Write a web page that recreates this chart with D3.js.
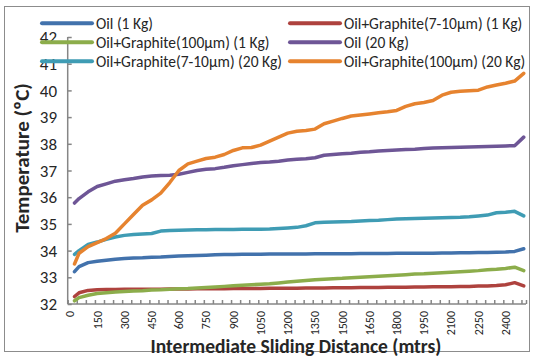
<!DOCTYPE html>
<html>
<head>
<meta charset="utf-8">
<script src="https://cdn.jsdelivr.net/npm/d3@7"></script>
<style>
  body { margin: 0; background: #fff; }
  svg { display: block; }
  text { font-family: Carlito, Calibri, Lato, sans-serif; fill: #262626; }
</style>
</head>
<body>
<script>
"use strict";

// sliding distance (m) of each reading
const distances = [25, 50, 100, 150, 200, 250, 300, 350, 400, 450, 500, 550, 600, 650, 700,
  750, 800, 850, 900, 950, 1000, 1050, 1100, 1150, 1200, 1250, 1300, 1350, 1400, 1450,
  1500, 1550, 1600, 1650, 1700, 1750, 1800, 1850, 1900, 1950, 2000, 2050, 2100, 2150,
  2200, 2250, 2300, 2350, 2400, 2450, 2500];

const oil1 = [33.21, 33.40, 33.55, 33.60, 33.64, 33.68, 33.70, 33.72, 33.73, 33.75, 33.76,
  33.78, 33.80, 33.81, 33.82, 33.83, 33.84, 33.85, 33.85, 33.86, 33.86, 33.86, 33.87, 33.87,
  33.87, 33.87, 33.87, 33.88, 33.88, 33.88, 33.88, 33.88, 33.89, 33.89, 33.89, 33.89, 33.90,
  33.90, 33.90, 33.90, 33.90, 33.91, 33.91, 33.92, 33.92, 33.93, 33.93, 33.94, 33.95, 33.97, 34.07];

const graphite710_1 = [32.28, 32.42, 32.51, 32.53, 32.54, 32.54, 32.55, 32.55, 32.55, 32.55,
  32.55, 32.56, 32.56, 32.56, 32.57, 32.57, 32.57, 32.57, 32.58, 32.58, 32.58, 32.58, 32.59,
  32.59, 32.59, 32.59, 32.60, 32.60, 32.60, 32.61, 32.61, 32.61, 32.62, 32.62, 32.62, 32.63,
  32.63, 32.63, 32.64, 32.64, 32.65, 32.65, 32.65, 32.66, 32.66, 32.67, 32.67, 32.69, 32.72,
  32.80, 32.68];

const graphite100_1 = [32.12, 32.24, 32.33, 32.39, 32.42, 32.45, 32.47, 32.49, 32.50, 32.52,
  32.53, 32.55, 32.57, 32.58, 32.60, 32.62, 32.64, 32.66, 32.68, 32.70, 32.72, 32.74, 32.76,
  32.79, 32.82, 32.85, 32.88, 32.91, 32.93, 32.95, 32.96, 32.98, 33.00, 33.02, 33.04, 33.06,
  33.08, 33.10, 33.12, 33.13, 33.15, 33.17, 33.19, 33.21, 33.23, 33.25, 33.28, 33.30, 33.33,
  33.38, 33.25];

const oil20 = [35.78, 35.95, 36.20, 36.40, 36.50, 36.60, 36.65, 36.70, 36.76, 36.79, 36.81,
  36.82, 36.86, 36.93, 37.00, 37.05, 37.07, 37.12, 37.18, 37.22, 37.26, 37.30, 37.32, 37.35,
  37.39, 37.42, 37.44, 37.48, 37.57, 37.60, 37.63, 37.65, 37.68, 37.70, 37.73, 37.75, 37.77,
  37.79, 37.80, 37.82, 37.84, 37.85, 37.86, 37.87, 37.88, 37.89, 37.90, 37.91, 37.92, 37.93, 38.25];

const graphite710_20 = [33.86, 34.00, 34.23, 34.32, 34.42, 34.51, 34.57, 34.60, 34.62, 34.64,
  34.73, 34.75, 34.76, 34.77, 34.78, 34.78, 34.79, 34.79, 34.79, 34.80, 34.80, 34.80, 34.81,
  34.83, 34.85, 34.87, 34.93, 35.04, 35.06, 35.07, 35.08, 35.09, 35.11, 35.13, 35.14, 35.16,
  35.18, 35.19, 35.20, 35.21, 35.22, 35.23, 35.24, 35.25, 35.27, 35.30, 35.33, 35.42, 35.44,
  35.47, 35.30];

const graphite100_20 = [33.50, 33.90, 34.15, 34.30, 34.45, 34.65, 35.00, 35.35, 35.70, 35.90,
  36.15, 36.55, 37.00, 37.25, 37.35, 37.45, 37.50, 37.60, 37.75, 37.85, 37.86, 37.95, 38.10,
  38.25, 38.40, 38.47, 38.50, 38.55, 38.75, 38.85, 38.95, 39.04, 39.08, 39.12, 39.16, 39.20,
  39.25, 39.40, 39.50, 39.55, 39.62, 39.82, 39.93, 39.97, 39.99, 40.01, 40.13, 40.20, 40.27,
  40.35, 40.64];

const seriesNames = ["Oil (1 Kg)", "Oil+Graphite(7-10µm) (1 Kg)", "Oil+Graphite(100µm) (1 Kg)",
  "Oil (20 Kg)", "Oil+Graphite(7-10µm) (20 Kg)", "Oil+Graphite(100µm) (20 Kg)"];
const seriesValues = [oil1, graphite710_1, graphite100_1, oil20, graphite710_20, graphite100_20];
const seriesColors = ["#4272AC", "#AE423E", "#8CAD4B", "#6E5696", "#3F9CB4", "#E6832F"];

const xLabels = d3.range(0, 2401, 150);
const yTicks = d3.range(32, 43, 1);
const minorTicks = d3.range(-12.5, 2500, 50);

const width = 534, height = 358;

const svg = d3.select("body").append("svg")
    .attr("width", width)
    .attr("height", height);

// outer chart border
svg.append("rect")
    .attr("x", 4.5).attr("y", 6.5)
    .attr("width", 525).attr("height", 345)
    .attr("fill", "none")
    .attr("stroke", "#8c8c8c")
    .attr("stroke-width", 1);

// category axis of 25 m slots, 0..2500
let x = d3.scaleLinear().domain([-12.5, 2512.5]).range([67.7, 526]);
let y = d3.scaleLinear().domain([32, 42]).range([304, 37]);

const axisColor = "#868686";

// y axis
let yAxis = svg.append("g")
    .attr("transform", `translate(${x(-12.5)},0)`)
    .call(d3.axisRight(y).tickValues(yTicks).tickSize(4).tickFormat(""));
yAxis.select(".domain").attr("stroke", axisColor).attr("stroke-width", 1.5)
    .attr("d", `M0,${y(32)}V${y(42)}`);
yAxis.selectAll(".tick line").attr("stroke", axisColor).attr("stroke-width", 1.5);

svg.append("g").selectAll("text")
  .data(yTicks)
  .enter().append("text")
    .attr("x", 57)
    .attr("y", d => y(d))
    .attr("dy", "0.36em")
    .attr("text-anchor", "end")
    .style("font-size", "17px")
    .text(d => d);

// x axis, minor ticks pointing up into the plot
let xAxis = svg.append("g")
    .attr("transform", `translate(0,${y(32)})`)
    .call(d3.axisTop(x).tickValues(minorTicks.concat([2512.5])).tickSize(4).tickFormat(""));
xAxis.select(".domain").attr("stroke", axisColor).attr("stroke-width", 1.5)
    .attr("d", `M${x(-12.5)},0H${x(2512.5)}`);
xAxis.selectAll(".tick line").attr("stroke", axisColor).attr("stroke-width", 1.5);

svg.append("g").selectAll("text")
  .data(xLabels)
  .enter().append("text")
    .attr("transform", d => `translate(${x(d)},${y(32) + 7}) rotate(-90)`)
    .attr("dy", "0.36em")
    .attr("text-anchor", "end")
    .style("font-size", "12px")
    .text(d => d);

// axis titles
svg.append("text")
    .attr("x", 296).attr("y", 346)
    .attr("dy", "0.36em")
    .attr("text-anchor", "middle")
    .style("font-size", "19.5px")
    .style("font-weight", "bold")
    .text("Intermediate Sliding Distance (mtrs)");

svg.append("text")
    .attr("transform", `translate(21,158) rotate(-90)`)
    .attr("dy", "0.36em")
    .attr("text-anchor", "middle")
    .style("font-size", "21px")
    .style("font-weight", "bold")
    .text("Temperature (ºC)");

// data lines
let line = d3.line()
    .x((d, i) => x(distances[i]))
    .y(d => y(d));

svg.append("g").selectAll("path")
  .data(seriesValues)
  .enter().append("path")
    .attr("d", line)
    .attr("fill", "none")
    .attr("stroke", (d, i) => seriesColors[i])
    .attr("stroke-width", 3.5)
    .attr("stroke-linejoin", "round")
    .attr("stroke-linecap", "round");

// legend, two columns
const legendCols = [42, 290];
const legendRows = [23.3, 42.3, 61.3];
let legend = svg.append("g").selectAll("g")
  .data(seriesNames)
  .enter().append("g")
    .attr("transform", (d, i) => `translate(${legendCols[i % 2]},${legendRows[Math.floor(i / 2)]})`);
legend.append("line")
    .attr("x1", 0).attr("x2", 50)
    .attr("stroke", (d, i) => seriesColors[i])
    .attr("stroke-width", 4)
    .attr("stroke-linecap", "round");
legend.append("text")
    .attr("x", 54)
    .attr("dy", "0.36em")
    .style("font-size", "15.5px")
    .text(d => d);
</script>
</body>
</html>
